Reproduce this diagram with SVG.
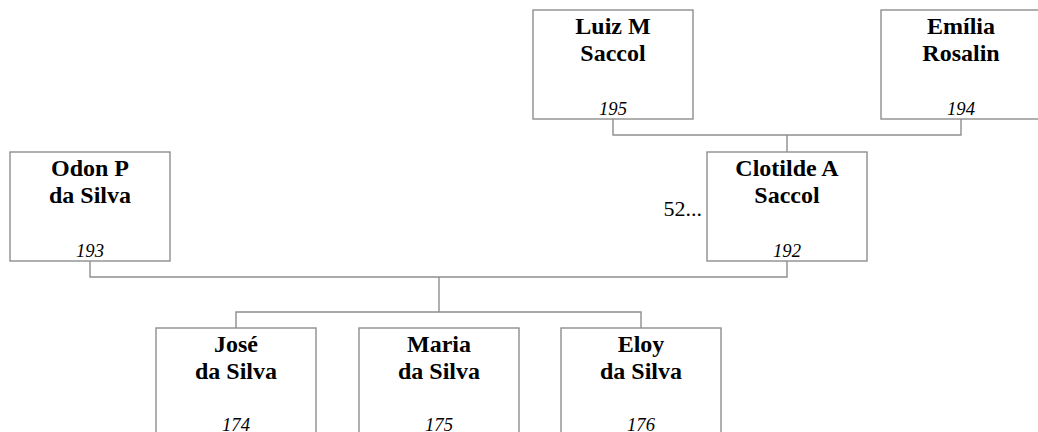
<svg xmlns="http://www.w3.org/2000/svg" width="1038" height="432" viewBox="0 0 1038 432">
<style>
.box{fill:#fff;stroke:#8e8e8e;stroke-width:1.4}
.conn{fill:none;stroke:#8e8e8e;stroke-width:1.4}
text{fill:#000}
.name{font-weight:bold;font-size:24px;text-anchor:middle}
.num{font-style:italic;font-size:18.67px;text-anchor:middle}
.note{font-size:22px;text-anchor:end}
</style>
<g id="connectors">
<path class="conn" d="M613,119 V135 H961 V119"/>
<path class="conn" d="M787,135 V152"/>
<path class="conn" d="M90,261 V277 H787 V261"/>
<path class="conn" d="M439,277 V312"/>
<path class="conn" d="M236,328 V312 H641 V328"/>
</g>
<g font-family="Liberation Serif, Tinos, Nimbus Roman, FreeSerif, DejaVu Serif, serif">
<g id="n195">
<rect class="box" x="533" y="10" width="160" height="109"/>
<text class="name" x="613" y="33.5">Luiz M</text>
<text class="name" x="613" y="61">Saccol</text>
<text class="num" x="613" y="114.5">195</text>
</g>
<g id="n194">
<rect class="box" x="881" y="10" width="160" height="109"/>
<text class="name" x="961" y="33.5">Emília</text>
<text class="name" x="961" y="61">Rosalin</text>
<text class="num" x="961" y="114.5">194</text>
</g>
<g id="n193">
<rect class="box" x="10" y="152" width="160" height="109"/>
<text class="name" x="90" y="175.5">Odon P</text>
<text class="name" x="90" y="203">da Silva</text>
<text class="num" x="90" y="256.5">193</text>
</g>
<g id="n192">
<rect class="box" x="707" y="152" width="160" height="109"/>
<text class="name" x="787" y="175.5">Clotilde A</text>
<text class="name" x="787" y="203">Saccol</text>
<text class="num" x="787" y="256.5">192</text>
<text class="note" x="702" y="216">52...</text>
</g>
<g id="n174">
<rect class="box" x="156" y="328" width="160" height="109"/>
<text class="name" x="236" y="351.5">José</text>
<text class="name" x="236" y="379">da Silva</text>
<text class="num" x="236" y="431">174</text>
</g>
<g id="n175">
<rect class="box" x="359" y="328" width="160" height="109"/>
<text class="name" x="439" y="351.5">Maria</text>
<text class="name" x="439" y="379">da Silva</text>
<text class="num" x="439" y="431">175</text>
</g>
<g id="n176">
<rect class="box" x="561" y="328" width="160" height="109"/>
<text class="name" x="641" y="351.5">Eloy</text>
<text class="name" x="641" y="379">da Silva</text>
<text class="num" x="641" y="431">176</text>
</g>
</g>
</svg>
